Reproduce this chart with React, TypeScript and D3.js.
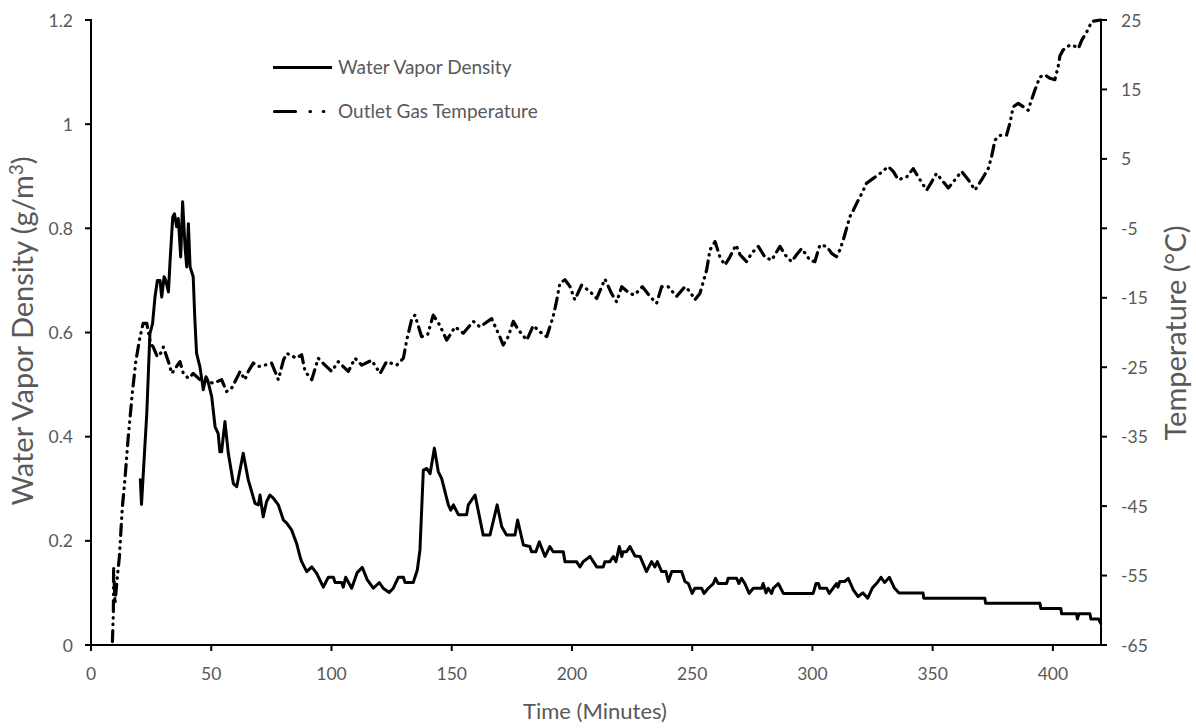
import React from "react";
import * as d3 from "d3";

const densityMinutes = [20.5,21.0,23.2,24.5,25.6,26.6,27.6,28.7,29.4,30.4,31.1,32.2,32.9,34.0,34.7,35.6,36.3,37.3,38.1,39.1,39.8,40.5,41.2,42.5,43.2,43.9,45.3,46.7,47.8,48.5,50.2,51.6,52.9,53.6,54.3,55.7,57.1,59.2,60.6,63.3,65.4,68.2,69.6,70.3,71.6,73.0,74.4,75.8,77.9,80.0,81.4,83.4,85.5,86.9,87.6,89.7,91.8,93.8,96.6,98.7,100.8,101.5,104.2,104.9,105.9,108.4,110.7,112.8,114.9,117.4,119.9,121.5,124.0,125.7,127.8,129.9,130.6,134.0,135.7,136.8,138.2,139.6,141.0,142.8,144.4,145.8,148.6,149.6,150.7,152.8,156.2,156.9,159.7,163.1,165.9,168.9,170.8,172.8,176.3,177.4,179.8,182.5,183.2,185.0,186.4,188.8,190.8,192.2,196.4,197.1,201.9,203.3,204.7,207.5,210.3,213.0,213.7,215.8,217.2,218.3,219.7,220.7,221.3,222.7,224.1,226.2,228.3,231.0,233.1,234.5,235.5,237.3,239.1,240.1,241.5,245.6,247.0,248.4,250.0,251.1,253.9,254.9,256.7,258.8,259.7,260.8,264.3,265.0,268.5,269.4,270.5,271.9,273.7,275.4,278.9,279.5,280.7,281.6,283.0,283.7,285.8,287.9,300.3,301.5,302.5,303.1,305.9,307.0,308.6,310.0,310.6,311.4,313.5,314.9,317.0,319.0,321.0,323.0,325.0,327.0,328.5,330.0,332.0,334.0,336.0,346.0,346.3,371.7,372.0,394.6,395.0,403.3,403.6,409.8,410.2,410.8,415.4,415.8,419.0,420.0];
const densityValues = [0.32,0.27,0.445,0.598,0.617,0.668,0.70,0.70,0.668,0.707,0.70,0.678,0.739,0.822,0.828,0.803,0.819,0.745,0.851,0.765,0.726,0.809,0.726,0.707,0.624,0.56,0.534,0.49,0.515,0.509,0.477,0.419,0.406,0.371,0.371,0.429,0.368,0.31,0.304,0.368,0.317,0.272,0.269,0.288,0.246,0.275,0.288,0.282,0.269,0.24,0.234,0.221,0.195,0.17,0.16,0.141,0.15,0.138,0.111,0.13,0.13,0.12,0.12,0.111,0.13,0.109,0.139,0.149,0.125,0.109,0.12,0.109,0.101,0.109,0.13,0.13,0.12,0.12,0.144,0.183,0.336,0.339,0.329,0.378,0.333,0.32,0.269,0.259,0.269,0.25,0.25,0.269,0.288,0.211,0.211,0.269,0.227,0.211,0.211,0.24,0.192,0.189,0.179,0.179,0.198,0.17,0.189,0.179,0.179,0.16,0.16,0.15,0.16,0.17,0.15,0.15,0.16,0.16,0.17,0.16,0.189,0.17,0.179,0.179,0.189,0.171,0.17,0.141,0.16,0.15,0.16,0.141,0.141,0.122,0.141,0.141,0.122,0.118,0.099,0.109,0.109,0.099,0.109,0.118,0.128,0.118,0.118,0.128,0.128,0.118,0.128,0.118,0.099,0.109,0.109,0.118,0.10,0.109,0.099,0.109,0.118,0.099,0.099,0.118,0.118,0.109,0.109,0.099,0.109,0.118,0.111,0.122,0.122,0.128,0.106,0.093,0.10,0.09,0.11,0.12,0.13,0.12,0.13,0.11,0.10,0.10,0.09,0.09,0.08,0.08,0.07,0.07,0.06,0.06,0.05,0.06,0.06,0.05,0.05,0.04];

const tempMinutes = [8.9,9.3,9.4,10.0,10.7,11.8,13.0,14.1,15.5,17.3,18.7,20.4,21.7,23.2,24.8,25.9,27.6,29.4,30.1,32.2,33.6,35.6,37.0,38.4,40.5,42.5,45.3,48.8,50.9,54.3,56.4,58.5,60.6,62.0,64.0,65.4,67.5,69.6,72.3,75.1,77.9,80.0,81.4,85.5,87.6,89.0,91.8,94.5,97.3,100.1,102.8,104.9,107.0,109.8,112.6,116.7,120.2,122.9,127.1,129.9,131.3,133.3,134.7,137.5,140.0,142.3,145.1,147.9,151.4,154.8,159.0,161.7,166.6,170.0,171.4,173.5,175.6,177.7,181.2,183.9,186.7,189.5,192.2,193.3,195.0,197.1,199.2,201.2,204.0,207.5,210.3,213.7,216.5,218.6,220.7,224.1,226.0,229.3,232.4,235.2,237.3,240.0,243.5,247.0,249.1,251.1,253.2,254.6,256.0,257.4,259.5,261.5,263.6,265.7,268.2,269.9,272.6,274.7,277.5,280.2,283.0,286.5,288.6,291.3,293.4,295.5,299.0,301.0,303.1,305.9,308.0,310.0,311.4,312.8,314.2,315.6,317.0,318.4,320.5,322.5,325.3,328.1,331.5,333.6,335.7,339.2,341.9,344.0,347.5,349.6,351.6,354.4,356.5,359.3,362.0,364.8,367.6,370.4,373.1,374.5,375.9,378.0,380.7,382.1,383.5,385.6,387.7,389.7,391.1,392.5,394.6,396.7,398.8,400.8,402.2,402.9,404.3,407.1,409.2,410.6,412.0,414.1,416.2,419.8];
const tempValues = [-64.5,-60.4,-53.7,-59,-56.1,-52.3,-45.3,-41.2,-35,-28.3,-24,-20.6,-18.7,-18.7,-21.6,-22.1,-23.5,-22.8,-22.1,-24.2,-25.9,-24.9,-24.2,-25.9,-26.6,-25.9,-26.8,-27.1,-27.3,-26.8,-28.5,-28,-26.6,-25.6,-26.8,-25.6,-24.4,-24.9,-24.7,-24.4,-26.8,-24,-23,-23.7,-23.2,-25.6,-26.8,-23.7,-24.7,-25.6,-24.2,-24.9,-25.6,-23.7,-24.7,-24,-25.9,-24.2,-24.7,-23.7,-21.1,-18.2,-17.5,-20.6,-20.3,-17.5,-19,-21.1,-19.2,-20.1,-18.4,-19.2,-18,-20.6,-21.8,-20.6,-18.4,-19.6,-21.1,-19,-19.9,-20.6,-17.7,-16,-12.9,-12.4,-13.4,-15.3,-13.2,-14.1,-15.1,-12.3,-14.4,-15.6,-13.4,-14.4,-14.6,-13.4,-14.8,-15.8,-13.4,-13.4,-14.8,-13.4,-14.1,-15.3,-14.4,-12.7,-11,-8.1,-6.9,-9.1,-10.3,-9.1,-7.4,-8.8,-9.8,-8.6,-7.6,-9.1,-9.6,-7.6,-8.8,-9.8,-8.8,-7.9,-9.6,-9.8,-7.4,-7.6,-8.6,-9.1,-8.1,-6.7,-5,-3.3,-2.4,-1.4,0,1.5,2.2,2.9,3.9,3.2,2,2.4,3.6,2.4,0.5,1.7,2.9,1.7,0.8,2,3.2,2,0.5,2,3.6,5.3,7.7,8.4,8.4,10.1,12.5,13,12.5,12,13.5,14.9,16.8,17.1,16.6,16.4,18.3,19.8,20.7,21.4,21.2,20.9,22.1,23.3,24.8,25];

const xTicks = [0, 50, 100, 150, 200, 250, 300, 350, 400];
const leftTicks = [0, 0.2, 0.4, 0.6, 0.8, 1.0, 1.2];
const rightTicks = [-65, -55, -45, -35, -25, -15, -5, 5, 15, 25];
const seriesNames = ["Water Vapor Density", "Outlet Gas Temperature"];

const W = 1196, H = 728;
const L = 91, R = 1101, T = 20, B = 645;
const FONT = "Lato, 'Open Sans', sans-serif";
const GRAY = "#595959";
const PLOT_DASH = "11 6 0.5 6 0.5 6";
const LEGEND_DASH = "21 14.5 0.5 12.8 0.5 14";

export default function App() {
  const x = d3.scaleLinear().domain([0, 420]).range([L, R]);
  const yL = d3.scaleLinear().domain([0, 1.2]).range([B, T]);
  const yR = d3.scaleLinear().domain([-65, 25]).range([B, T]);

  const density = densityMinutes.map((t, i) => [t, densityValues[i]] as [number, number]);
  const temp = tempMinutes.map((t, i) => [t, tempValues[i]] as [number, number]);

  const dLine = d3.line<[number, number]>().x(d => x(d[0])).y(d => yL(d[1]));
  const tLine = d3.line<[number, number]>().x(d => x(d[0])).y(d => yR(d[1]));

  return (
    <svg width={W} height={H} style={{ position: "absolute", left: 0, top: 0, background: "#fff" }}>
      <defs>
        <clipPath id="plot">
          <rect x={L} y={T - 4} width={R - L + 2} height={B - T + 6} />
        </clipPath>
      </defs>

      <g clipPath="url(#plot)">
        <path d={tLine(temp) || ""} fill="none" stroke="#000" strokeWidth={3.2}
          strokeDasharray={PLOT_DASH} strokeLinecap="round" strokeLinejoin="round" />
        <path d={dLine(density) || ""} fill="none" stroke="#000" strokeWidth={3}
          strokeLinejoin="round" />
      </g>

      {/* axes */}
      <g stroke="#000" strokeWidth={2}>
        <line x1={L} y1={T - 1} x2={L} y2={B} />
        <line x1={R} y1={T - 1} x2={R} y2={B} />
        <line x1={L - 6} y1={B} x2={R + 6} y2={B} />
        {xTicks.map(t => <line key={"xt" + t} x1={x(t)} x2={x(t)} y1={B} y2={B + 6} />)}
        {leftTicks.map(t => <line key={"lt" + t} x1={L - 6} x2={L} y1={yL(t)} y2={yL(t)} />)}
        {rightTicks.map(t => <line key={"rt" + t} x1={R} x2={R + 6} y1={yR(t)} y2={yR(t)} />)}
      </g>

      <g fontFamily={FONT} fontSize={17.5} fill={GRAY}>
        {xTicks.map(t => (
          <text key={"xl" + t} x={x(t)} y={680} textAnchor="middle">{t}</text>
        ))}
        {leftTicks.map(t => (
          <text key={"ll" + t} x={73} y={yL(t) + 6.5} textAnchor="end">{d3.format("~g")(t)}</text>
        ))}
        {rightTicks.map(t => (
          <text key={"rl" + t} x={1121} y={yR(t) + 6.5} textAnchor="start">{t}</text>
        ))}
      </g>

      <g fontFamily={FONT} fill={GRAY}>
        <text x={595} y={719} textAnchor="middle" fontSize={22}>Time (Minutes)</text>
        <text transform={`translate(33, 331) rotate(-90)`} textAnchor="middle" fontSize={29}>
          Water Vapor Density (g/m<tspan dy={-10} fontSize={19}>3</tspan><tspan dy={10}>)</tspan>
        </text>
        <text transform={`translate(1186, 333) rotate(-90)`} textAnchor="middle" fontSize={29}>Temperature (°C)</text>
      </g>

      {/* legend */}
      <g fontFamily={FONT} fontSize={19} fill={GRAY}>
        <line x1={273} x2={332} y1={67.5} y2={67.5} stroke="#000" strokeWidth={3} />
        <text x={338} y={74}>{seriesNames[0]}</text>
        <line x1={274.5} x2={326} y1={111.5} y2={111.5} stroke="#000" strokeWidth={3.2}
          strokeDasharray={LEGEND_DASH} strokeLinecap="round" />
        <text x={338} y={118}>{seriesNames[1]}</text>
      </g>
    </svg>
  );
}
